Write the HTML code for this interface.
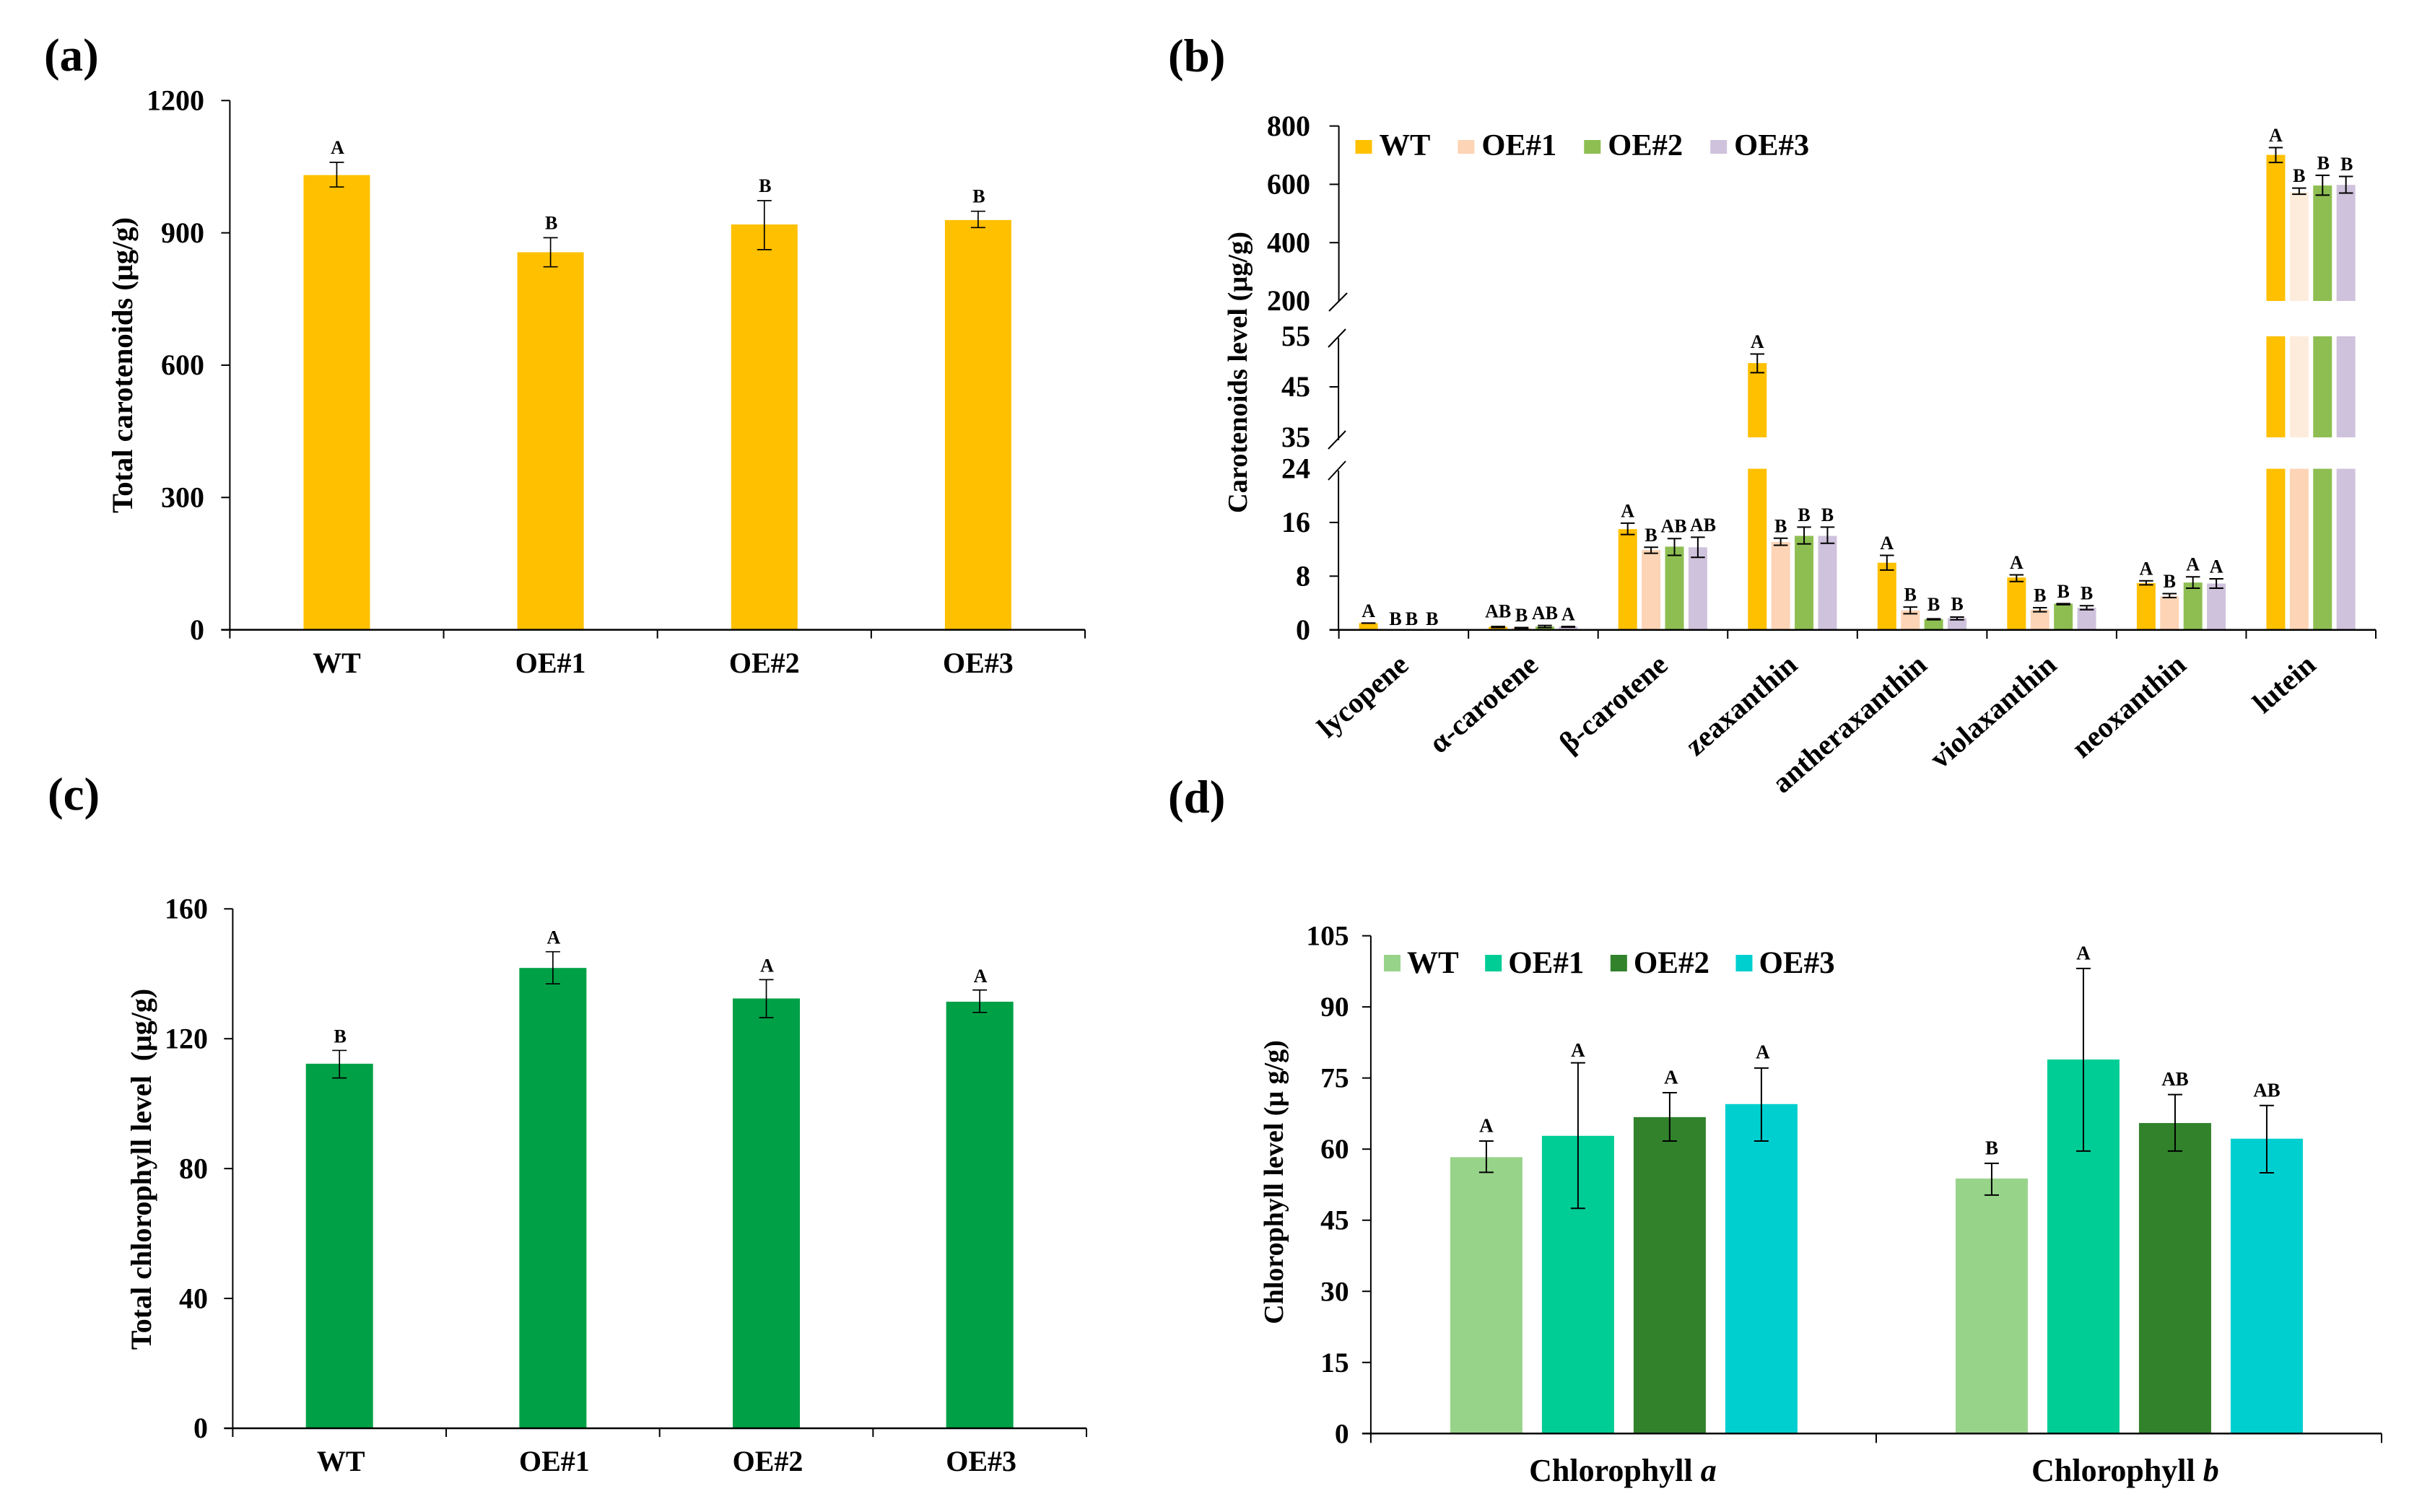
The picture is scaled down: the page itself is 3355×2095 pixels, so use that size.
<!DOCTYPE html>
<html lang="en">
<head>
<meta charset="utf-8">
<title>Carotenoid and chlorophyll levels</title>
<style>
html,body{margin:0;padding:0;background:#fff;}
svg{display:block;font-family:"Liberation Serif","Noto Serif CJK SC",serif;font-weight:bold;fill:#000;}
</style>
</head>
<body>
<svg id="fig" xmlns="http://www.w3.org/2000/svg" width="3355" height="2095" viewBox="0 0 3355 2095"></svg>
<script>
/* ---------- Panel (a) data ---------- */
const aCategories = ['WT', 'OE#1', 'OE#2', 'OE#3'];
const aValues = [1031, 856, 919, 929];
const aErrHigh = [1060, 889, 973, 949];
const aErrLow = [1004, 823, 862, 912];
const aLetters = ['A', 'B', 'B', 'B'];
const aTicks = [0, 300, 600, 900, 1200];

/* ---------- Panel (c) data ---------- */
const cCategories = ['WT', 'OE#1', 'OE#2', 'OE#3'];
const cValues = [112.3, 141.8, 132.4, 131.4];
const cErrHigh = [116.4, 146.8, 138.2, 135];
const cErrLow = [107.9, 136.9, 126.5, 128.1];
const cLetters = ['B', 'A', 'A', 'A'];
const cTicks = [0, 40, 80, 120, 160];

/* ---------- Panel (b) data ---------- */
const bCategories = ['lycopene', 'α-carotene', 'β-carotene', 'zeaxanthin', 'antheraxanthin', 'violaxanthin', 'neoxanthin', 'lutein'];
const bSeries = ['WT', 'OE#1', 'OE#2', 'OE#3'];
const bWT = [1.0, 0.45, 15.0, 49.7, 10.0, 7.8, 6.95, 701];
const bOE1 = [0, 0.3, 11.9, 13.1, 2.9, 3.0, 5.0, 574];
const bOE2 = [0, 0.5, 12.4, 14.0, 1.6, 3.9, 7.05, 596];
const bOE3 = [0, 0.5, 12.3, 14.0, 1.75, 3.3, 6.9, 598];
const bWTHigh = [1.0, 0.5, 15.9, 51.5, 11.1, 8.2, 7.3, 726];
const bWTLow = [1.0, 0.35, 14.2, 47.8, 8.9, 7.2, 6.7, 675];
const bOE1High = [0, 0.35, 12.3, 13.65, 3.4, 3.3, 5.4, 587];
const bOE1Low = [0, 0.25, 11.4, 12.6, 2.4, 2.7, 4.8, 566];
const bOE2High = [0, 0.65, 13.6, 15.3, 1.65, 3.9, 7.9, 631];
const bOE2Low = [0, 0.35, 11.1, 12.8, 1.5, 3.75, 6.2, 563];
const bOE3High = [0, 0.5, 13.8, 15.3, 1.9, 3.6, 7.6, 627];
const bOE3Low = [0, 0.4, 10.8, 12.9, 1.5, 3.0, 6.2, 570];
const bWTLetters = ['A', 'AB', 'A', 'A', 'A', 'A', 'A', 'A'];
const bOE1Letters = ['B', 'B', 'B', 'B', 'B', 'B', 'B', 'B'];
const bOE2Letters = ['B', 'AB', 'AB', 'B', 'B', 'B', 'A', 'B'];
const bOE3Letters = ['B', 'A', 'AB', 'B', 'B', 'B', 'A', 'B'];
const bTicksUpper = [200, 400, 600, 800];
const bTicksMiddle = [35, 45, 55];
const bTicksLower = [0, 8, 16, 24];

/* ---------- Panel (d) data ---------- */
const dCategories = ['Chlorophyll a', 'Chlorophyll b'];
const dSeries = ['WT', 'OE#1', 'OE#2', 'OE#3'];
const dWT = [58.3, 53.8];
const dOE1 = [62.8, 78.9];
const dOE2 = [66.75, 65.5];
const dOE3 = [69.5, 62.2];
const dWTHigh = [61.7, 57];
const dWTLow = [55.1, 50.3];
const dOE1High = [78.2, 98.1];
const dOE1Low = [47.5, 59.6];
const dOE2High = [71.9, 71.5];
const dOE2Low = [61.7, 59.6];
const dOE3High = [77.1, 69.2];
const dOE3Low = [61.7, 55];
const dWTLetters = ['A', 'B'];
const dOE1Letters = ['A', 'A'];
const dOE2Letters = ['A', 'AB'];
const dOE3Letters = ['A', 'AB'];
const dTicks = [0, 15, 30, 45, 60, 75, 90, 105];

/* ---------- drawing helpers ---------- */
const NS = 'http://www.w3.org/2000/svg';
const root = document.getElementById('fig');

function node(tag, name, parent, attrs) {
  const el = document.createElementNS(NS, tag);
  
  
  for (const k in attrs) el.setAttribute(k, attrs[k]);
  parent.appendChild(el);
  return el;
}
function line(name, parent, x1, y1, x2, y2, w) {
  return node('line', name, parent, {x1, y1, x2, y2, stroke: '#000', 'stroke-width': w || 2});
}
function rect(name, parent, x, yTop, yBottom, width, fill) {
  return node('rect', name, parent, {x, y: yTop, width, height: Math.max(0, yBottom - yTop), fill});
}
function text(name, parent, str, x, y, size, anchor, transform) {
  const attrs = {x, y, 'font-size': size, 'text-anchor': anchor || 'middle'};
  if (transform) attrs.transform = transform;
  const el = node('text', name, parent, attrs);
  el.style.whiteSpace = 'pre';
  el.textContent = str;
  return el;
}
function yTitle(parent, str, x, yCenter, size) {
  return text('y-axis-title', parent, str, x, yCenter, size, 'middle', 'rotate(-90 ' + x + ' ' + yCenter + ')');
}
function errorBar(parent, x, yHigh, yLow, cap, w) {
  line('error-bar-stem', parent, x, yHigh, x, yLow, w || 2);
  line('error-bar-cap-high', parent, x - cap / 2, yHigh, x + cap / 2, yHigh, w || 2);
  line('error-bar-cap-low', parent, x - cap / 2, yLow, x + cap / 2, yLow, w || 2);
}
function yTick(parent, label, y, xAxis, tickLen, xLabel, size) {
  line('y-tick', parent, xAxis - tickLen, y, xAxis, y, 2);
  text('y-tick-label', parent, String(label), xLabel, y + size * 0.33, size, 'end');
}
function legend(parent, names, colors, xStart, ySwatch, swW, swH, textBase, size, swGap, itemGap) {
  const g = node('g', 'legend', parent, {});
  let x = xStart;
  names.forEach(function (n, i) {
    const item = node('g', 'legend-entry', g, {});
    rect('legend-swatch', item, x, ySwatch, ySwatch + swH, swW, colors[i]);
    const t = text('legend-label', item, n, x + swW + swGap, textBase, size, 'start');
    x = x + swW + swGap + t.getComputedTextLength() + itemGap;
  });
}

/* simple single-series bar panel, used by (a) and (c) */
function simplePanel(cfg) {
  const g = node('g', cfg.name, root, {});
  text('panel-label', g, cfg.panel, cfg.panelX, cfg.panelY, 65, 'start');
  const y = function (v) { return cfg.y0 - (v / cfg.max) * (cfg.y0 - cfg.yTop); };
  const band = (cfg.xRight - cfg.xLeft) / cfg.categories.length;
  cfg.categories.forEach(function (c, i) {
    const cx = cfg.xLeft + band * (i + 0.5);
    rect('bar-' + c.toLowerCase().replace('#', ''), g, cx - cfg.barW / 2, y(cfg.values[i]), cfg.y0, cfg.barW, cfg.color);
    errorBar(g, cx, y(cfg.high[i]), y(cfg.low[i]), 20, 1.7);
    text('significance-letter', g, cfg.letters[i], cx + 1, y(cfg.high[i]) - cfg.letterGap, 26);
    text('x-tick-label', g, c, cx + cfg.labelShift, cfg.xLabelY, 40);
  });
  for (let i = 0; i <= cfg.categories.length; i++) {
    const tx = cfg.xLeft + band * i;
    line('x-tick', g, tx, cfg.y0, tx, cfg.y0 + 12, 2);
  }
  cfg.ticks.forEach(function (t) { yTick(g, t, y(t), cfg.xLeft, 12, cfg.labelX, 40); });
  line('y-axis', g, cfg.xLeft, cfg.yTop, cfg.xLeft, cfg.y0, 2);
  line('x-axis', g, cfg.xLeft - 12, cfg.y0, cfg.xRight, cfg.y0, 2.5);
  yTitle(g, cfg.title, cfg.titleX, (cfg.titleCenter), cfg.titleSize);
}

simplePanel({
  name: 'panel-a-total-carotenoids', panel: '(a)', panelX: 61, panelY: 98,
  categories: aCategories, values: aValues, high: aErrHigh, low: aErrLow, letters: aLetters, ticks: aTicks,
  max: 1200, xLeft: 318.4, xRight: 1503, yTop: 139.3, y0: 872.6, barW: 92, color: '#FFC000',
  letterGap: 12, xLabelY: 932, labelX: 283, labelShift: 0,
  title: 'Total carotenoids (μg/g)', titleX: 183, titleCenter: 506, titleSize: 40.5
});

simplePanel({
  name: 'panel-c-total-chlorophyll', panel: '(c)', panelX: 66, panelY: 1122,
  categories: cCategories, values: cValues, high: cErrHigh, low: cErrLow, letters: cLetters, ticks: cTicks,
  max: 160, xLeft: 322.4, xRight: 1505, yTop: 1259.3, y0: 1979, barW: 93, color: '#00A146',
  letterGap: 11, xLabelY: 2038, labelX: 288, labelShift: 2,
  title: 'Total chlorophyll level  (μg/g)', titleX: 209, titleCenter: 1620, titleSize: 40
});

/* ---------- Panel (b): broken y axis ---------- */
(function () {
  const g = node('g', 'panel-b-carotenoid-levels', root, {});
  text('panel-label', g, '(b)', 1618, 99, 65, 'start');
  const colors = ['#FFC000', '#FDD4B6', '#8EBE52', '#CFC2DC'];
  const tintOE1 = '#FDECDC';
  const series = [bWT, bOE1, bOE2, bOE3];
  const high = [bWTHigh, bOE1High, bOE2High, bOE3High];
  const low = [bWTLow, bOE1Low, bOE2Low, bOE3Low];
  const letters = [bWTLetters, bOE1Letters, bOE2Letters, bOE3Letters];
  const segments = [
    {lo: 0, hi: 24, yLo: 872.7, yHi: 649.5, tint: false},
    {lo: 35, hi: 55, yLo: 606, yHi: 466, tint: true},
    {lo: 200, hi: 800, yLo: 417, yHi: 174.6, tint: true}
  ];
  const yIn = function (s, v) { return s.yLo - (v - s.lo) * (s.yLo - s.yHi) / (s.hi - s.lo); };
  const y = function (v) {
    const s = v <= 24 ? segments[0] : (v <= 55 ? segments[1] : segments[2]);
    return yIn(s, v);
  };
  const xLeft = 1854.6, xRight = 3291;
  const band = (xRight - xLeft) / bCategories.length;
  const barW = 26, pitch = 32.4, offset = 28;
  const letterNudge = {'0-1': [5, 0], '0-2': [-5, 0], '0-3': [-9, 0], '1-0': [0, -4], '2-3': [7, 0], '2-2': [-1, 0], '4-2': [0, -3], '4-3': [0, -1], '7-2': [1, 0], '7-3': [1, 0]};

  bCategories.forEach(function (cat, c) {
    const x0 = xLeft + band * c + offset;
    series.forEach(function (vals, i) {
      const v = vals[c];
      const x = x0 + pitch * i;
      segments.forEach(function (s) {
        if (v > s.lo) {
          const fill = (i === 1 && s.tint) ? tintOE1 : colors[i];
          rect('bar-' + cat + '-' + bSeries[i].toLowerCase().replace('#', ''), g, x, yIn(s, Math.min(v, s.hi)), s.yLo, barW, fill);
        }
      });
      const cx = x + barW / 2;
      if (v > 0) errorBar(g, cx, y(high[i][c]), y(low[i][c]), 19.5, 2);
      const n = letterNudge[c + '-' + i] || [0, 0];
      const base = v > 0 ? y(high[i][c]) - 8.5 : y(0) - 6.7;
      text('significance-letter', g, letters[i][c], cx + n[0], base + n[1], 26);
    });
    const lx = xLeft + band * (c + 0.5) + 9;
    text('x-tick-label', g, cat, lx, 925, 40.5, 'end', 'rotate(-41 ' + lx + ' 925)');
  });
  for (let i = 0; i <= bCategories.length; i++) {
    const tx = xLeft + band * i;
    line('x-tick', g, tx, 872.7, tx, 885, 2);
  }
  bTicksLower.forEach(function (t) {
    if (t === 24) text('y-tick-label', g, String(t), 1815, yIn(segments[0], t) + 13, 40, 'end');
    else yTick(g, t, yIn(segments[0], t), xLeft, 13, 1815, 40);
  });
  bTicksMiddle.forEach(function (t) {
    if (t === 45) yTick(g, t, yIn(segments[1], t), xLeft, 13, 1815, 40);
    else text('y-tick-label', g, String(t), 1815, yIn(segments[1], t) + 13, 40, 'end');
  });
  bTicksUpper.forEach(function (t) {
    if (t === 200) text('y-tick-label', g, String(t), 1815, yIn(segments[2], t) + 13, 40, 'end');
    else yTick(g, t, yIn(segments[2], t), xLeft, 13, 1815, 40);
  });
  line('y-axis-upper', g, xLeft, 174.6, xLeft, 418, 2);
  line('y-axis-middle', g, xLeft - 0.5, 468, xLeft - 0.5, 610, 2);
  line('y-axis-lower', g, xLeft - 0.5, 652, xLeft - 0.5, 873, 2);
  line('axis-break-mark', g, 1841, 431, 1866, 406, 2);
  line('axis-break-mark', g, 1840, 481, 1864, 456, 2);
  line('axis-break-mark', g, 1840, 622, 1864, 597, 2);
  line('axis-break-mark', g, 1840, 665, 1864, 639, 2);
  line('x-axis', g, xLeft - 13, 872.7, xRight, 872.7, 2.5);
  yTitle(g, 'Carotenoids level (μg/g)', 1727, 516, 38.4);
  legend(g, bSeries, colors, 1877.5, 194, 23, 19, 215, 42.5, 10, 38);
})();

/* ---------- Panel (d) ---------- */
(function () {
  const g = node('g', 'panel-d-chlorophyll-levels', root, {});
  text('panel-label', g, '(d)', 1618, 1126, 65, 'start');
  const colors = ['#98D38A', '#00CD96', '#31822B', '#00CFD0'];
  const series = [dWT, dOE1, dOE2, dOE3];
  const high = [dWTHigh, dOE1High, dOE2High, dOE3High];
  const low = [dWTLow, dOE1Low, dOE2Low, dOE3Low];
  const letters = [dWTLetters, dOE1Letters, dOE2Letters, dOE3Letters];
  const xLeft = 1898.9, xRight = 3299, y0 = 1986.3, yTop = 1296.6, max = 105;
  const y = function (v) { return y0 - (v / max) * (y0 - yTop); };
  const band = (xRight - xLeft) / dCategories.length;
  const barW = 100, pitch = 127, offset = 110;
  const catLabelShift = [-1, -5];
  const letterNudge = {'0-1': [0, 4], '0-2': [2, 0], '0-3': [2, -1]};
  dCategories.forEach(function (cat, c) {
    const x0 = xLeft + band * c + offset;
    series.forEach(function (vals, i) {
      const x = x0 + pitch * i;
      rect('bar-' + cat.toLowerCase().replace(' ', '-') + '-' + dSeries[i].toLowerCase().replace('#', ''), g, x, y(vals[c]), y0, barW, colors[i]);
      errorBar(g, x + barW / 2, y(high[i][c]), y(low[i][c]), 20, 2);
      const n = letterNudge[c + '-' + i] || [0, 0];
      text('significance-letter', g, letters[i][c], x + barW / 2 + n[0], y(high[i][c]) - 12.5 + n[1], 27);
    });
    const parts = cat.split(' ');
    const t = text('x-tick-label', g, parts[0] + ' ', xLeft + band * (c + 0.5) + catLabelShift[c], 2052, 44);
    const em = document.createElementNS(NS, 'tspan');
    
    
    em.setAttribute('font-style', 'italic');
    em.textContent = parts[1];
    t.appendChild(em);
  });
  for (let i = 0; i <= dCategories.length; i++) {
    const tx = xLeft + band * i;
    line('x-tick', g, tx, y0, tx, y0 + 13, 2);
  }
  dTicks.forEach(function (t) { yTick(g, t, y(t), xLeft, 12, 1868.6, 39.5); });
  line('y-axis', g, xLeft, yTop, xLeft, y0, 2);
  line('x-axis', g, xLeft - 12, y0, xRight, y0, 2.5);
  yTitle(g, 'Chlorophyll level (μ g/g)', 1777, 1638, 38);
  legend(g, dSeries, colors, 1917, 1323, 23, 23, 1348, 43, 9, 36.5);
})();
</script>
</body>
</html>
